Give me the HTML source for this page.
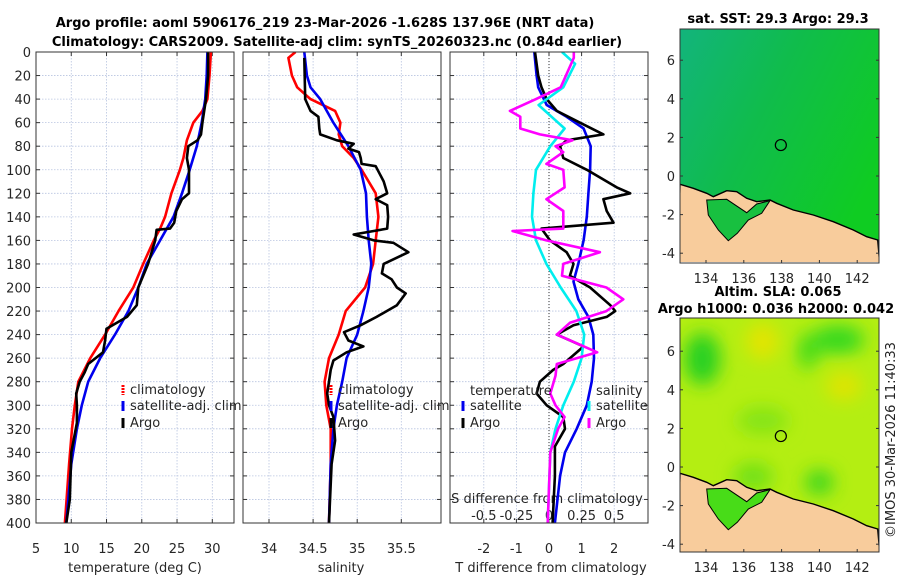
<!DOCTYPE html>
<html><head><meta charset="utf-8"><style>
body{margin:0;background:#fff;}
svg{display:block;font-family:"DejaVu Sans","Liberation Sans",sans-serif;}
</style></head><body>
<svg id="c" width="900" height="580" viewBox="0 0 900 580" xmlns="http://www.w3.org/2000/svg">
<defs>
<linearGradient id="sstg" x1="0" y1="0" x2="1" y2="0.6">
<stop offset="0" stop-color="#12b47c"/><stop offset="0.45" stop-color="#10bc4c"/><stop offset="1" stop-color="#0fcc22"/></linearGradient>
<filter id="blur"><feGaussianBlur stdDeviation="9"/></filter>
<clipPath id="clip1"><rect x="36" y="52" width="198" height="471"/></clipPath>
<clipPath id="clip2"><rect x="243" y="52" width="198" height="471"/></clipPath>
<clipPath id="clip3"><rect x="450" y="52" width="198" height="471"/></clipPath>
<clipPath id="clipm1"><rect x="680" y="29" width="199" height="233"/></clipPath>
<clipPath id="clipm2"><rect x="680" y="318" width="199" height="234"/></clipPath>
</defs>
<text x="325" y="27" text-anchor="middle" font-size="13" font-weight="bold">Argo profile: aoml 5906176_219 23-Mar-2026 -1.628S 137.96E (NRT data)</text>
<text x="337" y="46" text-anchor="middle" font-size="13" font-weight="bold">Climatology: CARS2009. Satellite-adj clim: synTS_20260323.nc (0.84d earlier)</text>
<g id="p1"></g>
<g id="p2"></g>
<g id="p3"></g>
<g id="m1"></g>
<g id="m2"></g>
<text x="778" y="23" text-anchor="middle" font-size="13" font-weight="bold">sat. SST: 29.3 Argo: 29.3</text>
<text x="778" y="296" text-anchor="middle" font-size="13" font-weight="bold">Altim. SLA: 0.065</text>
<text x="776" y="313" text-anchor="middle" font-size="13" font-weight="bold">Argo h1000: 0.036 h2000: 0.042</text>
<text transform="translate(895,440) rotate(-90)" text-anchor="middle" font-size="13" fill="#222">©IMOS 30-Mar-2026 11:40:33</text>
</svg>
<script>
const NS="http://www.w3.org/2000/svg";
function mk(parent,tag,attrs,txt){const e=document.createElementNS(NS,tag);for(const k in attrs)e.setAttribute(k,attrs[k]);if(txt!==undefined)e.textContent=txt;parent.appendChild(e);return e;}
// ---------- DATA ----------
const tempClimDepth=[0,20,40,50,60,75,90,100,120,140,150,160,180,200,220,240,260,280,300,320,350,400];
const tempClim=[29.8,29.6,29.3,28.6,27.3,26.4,25.9,25.4,24.2,23.3,22.6,21.7,20.2,18.8,16.7,14.8,12.7,11.0,10.5,10.1,9.7,9.1];
const tempSatDepth=[0,20,40,60,80,100,120,140,160,180,200,220,240,260,280,300,320,350,400];
const tempSat=[29.3,29.2,29.0,28.5,27.8,26.8,25.7,24.5,22.6,20.7,19.5,18.1,16.2,14.1,12.4,11.5,10.8,10.0,9.3];
const tempArgoDepth=[0,20,40,60,70,75,80,90,100,120,125,135,145,150,151,160,180,200,215,225,235,245,255,265,272,280,290,300,315,340,380,400];
const tempArgo=[29.4,29.4,29.1,28.6,28.4,27.9,26.6,26.4,26.7,26.7,25.7,24.9,24.6,24.0,22.1,21.9,20.9,19.5,19.3,17.9,15.0,14.8,14.5,12.4,11.9,11.2,10.7,10.8,10.8,10.0,9.8,9.3];
const salClimDepth=[0,5,20,30,40,50,60,70,80,90,100,120,140,160,180,200,220,240,260,280,300,320,350,400];
const salClim=[34.30,34.22,34.26,34.32,34.47,34.75,34.81,34.79,34.83,34.96,35.05,35.21,35.24,35.21,35.18,35.09,34.87,34.79,34.68,34.63,34.65,34.70,34.70,34.68];
const salSatDepth=[0,20,30,40,60,80,100,120,140,160,180,200,220,240,260,280,300,320,350,400];
const salSat=[34.40,34.43,34.47,34.58,34.73,34.90,35.04,35.10,35.11,35.13,35.16,35.13,35.07,35.00,34.88,34.83,34.77,34.73,34.70,34.68];
const salArgoDepth=[5,40,50,55,65,70,75,78,82,85,90,95,97,110,120,125,130,140,150,155,160,162,170,180,188,193,200,205,215,225,232,238,245,250,255,262,270,280,290,300,310,330,350,400];
const salArgo=[34.40,34.41,34.47,34.56,34.57,34.58,34.77,34.96,34.90,35.02,35.04,35.05,35.21,35.30,35.34,35.21,35.34,35.35,35.34,34.96,35.19,35.41,35.58,35.30,35.28,35.39,35.45,35.55,35.45,35.22,35.04,34.85,34.90,35.07,34.88,34.73,34.70,34.68,34.66,34.68,34.73,34.75,34.71,34.68];
const tdSatDepth=[0,20,30,45,55,65,80,100,120,140,160,180,195,210,225,240,260,280,300,320,340,360,400];
const tdSat=[-0.45,-0.38,-0.33,-0.07,0.54,1.06,1.28,1.26,1.21,1.16,1.06,0.90,0.75,0.90,1.21,1.36,1.38,1.31,1.16,0.85,0.49,0.34,0.18];
const tdArgoDepth=[0,20,30,40,50,60,70,75,80,90,100,115,120,125,135,145,150,160,170,180,190,200,215,220,225,232,240,250,265,270,280,290,300,310,320,335,360,400];
const tdArgo=[-0.43,-0.33,-0.23,-0.07,0.24,0.95,1.67,0.54,0.34,0.44,1.16,2.08,2.49,1.67,1.77,1.98,-0.23,0.03,0.54,0.75,0.64,1.26,1.88,2.03,1.77,0.75,0.24,1.06,0.44,0.13,-0.28,-0.38,-0.07,0.44,0.49,0.18,0.18,0.11];
const sdSatDepth=[0,10,30,45,55,65,80,100,120,140,160,180,200,220,240,260,280,300,320,340,400];
const sdSat=[0.10,0.20,0.11,-0.08,0.02,0.12,0.01,-0.10,-0.12,-0.13,-0.10,-0.02,0.09,0.21,0.27,0.25,0.19,0.11,0.05,0.01,-0.01];
const sdArgoDepth=[0,5,30,40,50,55,65,70,75,80,85,95,100,115,125,135,150,152,160,170,180,190,200,210,220,230,240,255,265,275,290,300,310,320,340,400];
const sdArgo=[0.19,0.19,0.09,-0.10,-0.30,-0.22,-0.22,-0.07,0.18,0.05,0.11,-0.02,0.11,0.12,-0.02,0.11,0.11,-0.28,-0.02,0.39,0.11,0.10,0.44,0.57,0.44,0.16,0.06,0.37,0.06,0.05,0.01,0.05,0.12,0.07,0.01,-0.01];
const depthTicks=[0,20,40,60,80,100,120,140,160,180,200,220,240,260,280,300,320,340,360,380,400];
const tempTicks=[5,10,15,20,25,30];
const salTicks=[34,34.5,35,35.5];
const tdTicks=[-2,-1,0,1,2];
const sdTicks=[-0.5,-0.25,0,0.25,0.5];
const sdTickLabels=["-0.5","-0.25","0","0.25","0.5"];
const latTicks=[6,4,2,0,-2,-4];
const lonTicks=[134,136,138,140,142];
const argoLon=137.96, argoLat=-1.628+3.23;
// ---------- SCALES ----------
const Y0=52,Y1=523;
const yD=d=>Y0+d*(Y1-Y0)/400;
const xT=t=>36+(t-5)*(212.3-36)/25;
const xS=s=>269+(s-34)*88.2;
const xTD=t=>549+t*32.6;
const xSD=s=>549+s*130.4;
function frame(g,x0,w){
  for(const d of depthTicks){const l=mk(g,'line',{x1:x0,x2:x0+w,y1:yD(d),y2:yD(d),stroke:'#b8c4e0','stroke-width':0.8,'stroke-dasharray':'1.5,1.5'});
    
    mk(g,'line',{x1:x0,x2:x0+4,y1:yD(d),y2:yD(d),stroke:'#333'});mk(g,'line',{x1:x0+w-4,x2:x0+w,y1:yD(d),y2:yD(d),stroke:'#333'});}
}
function vgrid(g,xs,x0,w){for(const x of xs){const l=mk(g,'line',{x1:x,x2:x,y1:Y0,y2:Y1,stroke:'#b8c4e0','stroke-width':0.8,'stroke-dasharray':'1.5,1.5'});
  
  mk(g,'line',{x1:x,x2:x,y1:Y1,y2:Y1-4,stroke:'#333'});mk(g,'line',{x1:x,x2:x,y1:Y0,y2:Y0+4,stroke:'#333'});}}
function box(g,x0,w){const r=mk(g,'rect',{x:x0,y:Y0,width:w,height:Y1-Y0,fill:'none',stroke:'#333','stroke-width':1});
  }
function line(g,xs,ds,fx,color,name,clip){const pts=xs.map((v,i)=>fx(v).toFixed(1)+','+yD(ds[i]).toFixed(1)).join(' ');
  const p=mk(g,'polyline',{points:pts,fill:'none',stroke:color,'stroke-width':2.6,'stroke-linejoin':'round','clip-path':'url(#'+clip+')'});
  }
function txt(g,x,y,s,anchor,size,name){const t=mk(g,'text',{x:x,y:y,'text-anchor':anchor||'start','font-size':size||13,fill:'#262626'},s);
  return t;}
function legend(g,x,y,color,label,dashed){const l=mk(g,'line',{x1:x,x2:x,y1:y-9,y2:y+1,stroke:color,'stroke-width':3});
  if(dashed)l.setAttribute('stroke-dasharray','2,1');
  
  txt(g,x+7,y,label,'start',13,'legend-entry');}
// Panel 1
const g1=document.getElementById('p1');
frame(g1,36,198);vgrid(g1,tempTicks.map(xT),36,198);
for(const d of depthTicks)txt(g1,31,yD(d)+5,String(d),'end',13,'depth-tick-label');
for(const t of tempTicks)txt(g1,xT(t),553,String(t),'middle',13,'temperature-tick-label');
txt(g1,135,572,'temperature (deg C)','middle',13,'x-axis-title');
line(g1,tempClim,tempClimDepth,xT,'#ff0000','temp-climatology-line','clip1');
line(g1,tempSat,tempSatDepth,xT,'#0000ee','temp-satellite-line','clip1');
line(g1,tempArgo,tempArgoDepth,xT,'#000','temp-argo-line','clip1');
box(g1,36,198);
legend(g1,123,394,'#ff0000','climatology',true);legend(g1,123,410,'#0000ee','satellite-adj. clim');legend(g1,123,427,'#000','Argo');
// Panel 2
const g2=document.getElementById('p2');
frame(g2,243,198);vgrid(g2,salTicks.map(xS),243,198);
for(const s of salTicks)txt(g2,xS(s),553,String(s),'middle',13,'salinity-tick-label');
txt(g2,341,572,'salinity','middle',13,'x-axis-title');
line(g2,salClim,salClimDepth,xS,'#ff0000','sal-climatology-line','clip2');
line(g2,salSat,salSatDepth,xS,'#0000ee','sal-satellite-line','clip2');
line(g2,salArgo,salArgoDepth,xS,'#000','sal-argo-line','clip2');
box(g2,243,198);
legend(g2,331,394,'#ff0000','climatology',true);legend(g2,331,410,'#0000ee','satellite-adj. clim');legend(g2,331,427,'#000','Argo');
// Panel 3
const g3=document.getElementById('p3');
frame(g3,450,198);vgrid(g3,tdTicks.map(xTD),450,198);
const z=mk(g3,'line',{x1:xTD(0),x2:xTD(0),y1:Y0,y2:Y1,stroke:'#333','stroke-width':1,'stroke-dasharray':'1,2'});

for(const t of tdTicks)txt(g3,xTD(t),553,String(t),'middle',13,'tdiff-tick-label');
txt(g3,551,572,'T difference from climatology','middle',13,'x-axis-title');
txt(g3,547,503,'S difference from climatology','middle',13,'s-axis-title');
sdTicks.forEach((s,i)=>txt(g3,xSD(s),520,sdTickLabels[i],'middle',13,'sdiff-tick-label'));
line(g3,tdSat,tdSatDepth,xTD,'#0000ee','tdiff-satellite-line','clip3');
line(g3,tdArgo,tdArgoDepth,xTD,'#000','tdiff-argo-line','clip3');
line(g3,sdSat,sdSatDepth,xSD,'#00eeee','sdiff-satellite-line','clip3');
line(g3,sdArgo,sdArgoDepth,xSD,'#ff00ff','sdiff-argo-line','clip3');
box(g3,450,198);
txt(g3,470,395,'temperature','start',13,'legend-title');txt(g3,596,395,'salinity','start',13,'legend-title');
legend(g3,463,410,'#0000ee','satellite');legend(g3,463,427,'#000','Argo');
legend(g3,589,410,'#00eeee','satellite');legend(g3,589,427,'#ff00ff','Argo');
// ---------- MAPS ----------
const lonX=l=>706+(l-134)*18.9;
// coast in zoom coords of sst map (lon/lat derived)
const coastZ=[[60,553],[100,565],[140,580],[160,590],[200,572],[230,575],[260,595],[290,605],[330,600],[350,610],[400,630],[460,645],[520,665],[580,690],[620,710],[653,720]];
const bayZ=[[140,600],[200,598],[260,638],[290,612],[330,602],[305,640],[265,660],[232,700],[205,722],[175,690],[145,645]];
function drawMap(g,top,lat0,clip,kind){
  const latY=l=>lat0-l*19.3;
  const cg=mk(g,'g',{'clip-path':'url(#'+clip+')'});
  if(kind==='sst'){mk(cg,'rect',{x:680,y:top,width:199,height:234,fill:'url(#sstg)'});}
  else{mk(cg,'rect',{x:680,y:top,width:199,height:234,fill:'#b4ee12'});
    const bl=mk(cg,'g',{filter:'url(#blur)'});
    mk(bl,'ellipse',{cx:lonX(133.8),cy:latY(5.6),rx:18,ry:26,fill:'#28d024'});
    mk(bl,'ellipse',{cx:lonX(141),cy:latY(6.6),rx:26,ry:14,fill:'#30d820'});
    mk(bl,'ellipse',{cx:lonX(139.4),cy:latY(6),rx:10,ry:18,fill:'#40da1c'});
    mk(bl,'ellipse',{cx:lonX(137),cy:latY(6.5),rx:16,ry:18,fill:'#e4e400'});
    mk(bl,'ellipse',{cx:lonX(141.3),cy:latY(4.2),rx:18,ry:14,fill:'#e0e400'});
    mk(bl,'ellipse',{cx:lonX(140),cy:latY(-0.8),rx:14,ry:12,fill:'#34d424'});
    mk(bl,'ellipse',{cx:lonX(137),cy:latY(2.4),rx:26,ry:14,fill:'#84e414'});
    mk(bl,'ellipse',{cx:lonX(136.5),cy:latY(-0.5),rx:20,ry:14,fill:'#70e014'});}
  const toP=([zx,zy])=>{const x=660+zx/3;const y=top+(zy/3-29);return x.toFixed(1)+','+y.toFixed(1);};
  const land=coastZ.map(toP).join(' ')+' '+toP([660,800])+' '+toP([55,800]);
  const lp=mk(cg,'polygon',{points:land,fill:'#f8cc9c',stroke:'#000','stroke-width':1.4});
  
  const bp=mk(cg,'polygon',{points:bayZ.map(toP).join(' '),fill:kind==='sst'?'#18c040':'#48dc18',stroke:'#000','stroke-width':1});
  
  const c=mk(g,'circle',{cx:lonX(argoLon),cy:latY(argoLat),r:5.5,fill:'none',stroke:'#000','stroke-width':1.2});
  
  const r=mk(g,'rect',{x:680,y:top,width:199,height:234,fill:'none',stroke:'#333'});
  
  for(const la of latTicks){const y=latY(la);mk(g,'line',{x1:680,x2:683,y1:y,y2:y,stroke:'#333'});mk(g,'line',{x1:876,x2:879,y1:y,y2:y,stroke:'#333'});
    txt(g,675,y+5,String(la),'end',13,'lat-tick-label');}
  for(const lo of lonTicks){const x=lonX(lo);mk(g,'line',{x1:x,x2:x,y1:top+234,y2:top+231,stroke:'#333'});
    txt(g,x,top+254,String(lo),'middle',13,'lon-tick-label');}
}
drawMap(document.getElementById('m1'),29,176,'clipm1','sst');
drawMap(document.getElementById('m2'),318,467,'clipm2','sla');
</script>
</body></html>
